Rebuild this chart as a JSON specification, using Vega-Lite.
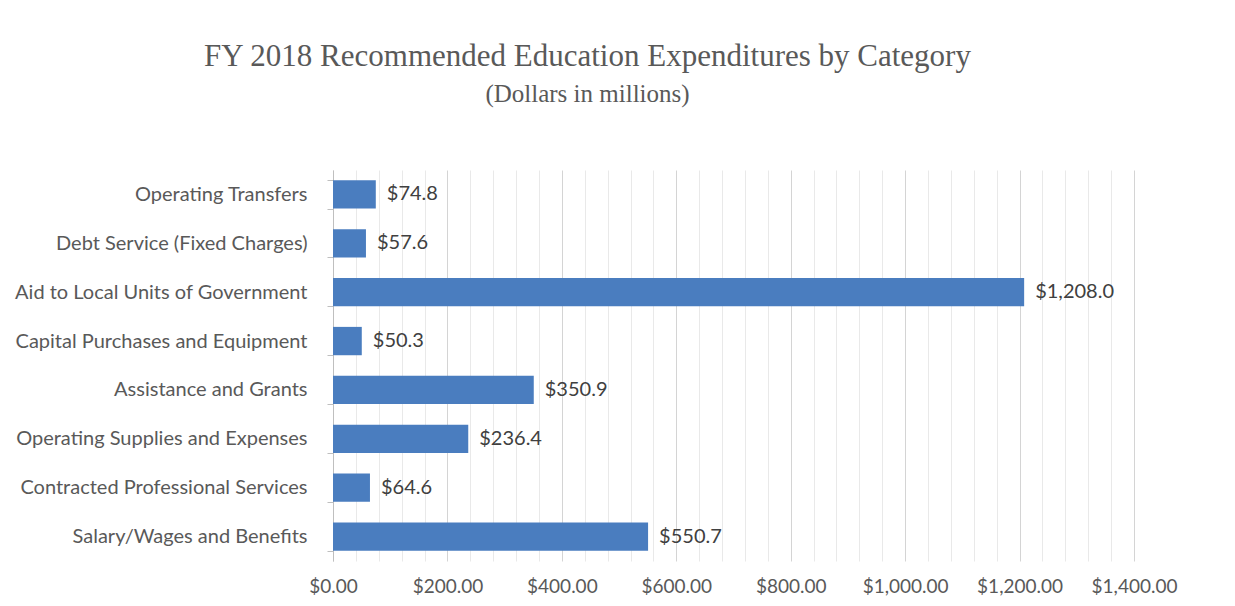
{
  "$schema": "https://vega.github.io/schema/vega-lite/v6.json",
  "width": 801,
  "height": 391,
  "autosize": {"type": "none"},
  "padding": {"left": 333, "top": 170, "right": 101, "bottom": 45},
  "background": "white",
  "config": {"view": {"stroke": null}},
  "title": {
    "text": "FY 2018 Recommended Education Expenditures by Category",
    "subtitle": "(Dollars in millions)",
    "anchor": "middle",
    "dx": -146,
    "offset": 52,
    "font": "Liberation Serif",
    "fontSize": 31,
    "fontWeight": "normal",
    "color": "#595959",
    "subtitleFont": "Liberation Serif",
    "subtitleFontSize": 25,
    "subtitleColor": "#595959",
    "subtitlePadding": 9
  },
  "data": {
    "values": [
      {"category": "Operating Transfers", "amount": 74.8},
      {"category": "Debt Service (Fixed Charges)", "amount": 57.6},
      {"category": "Aid to Local Units of Government", "amount": 1208.0},
      {"category": "Capital Purchases and Equipment", "amount": 50.3},
      {"category": "Assistance and Grants", "amount": 350.9},
      {"category": "Operating Supplies and Expenses", "amount": 236.4},
      {"category": "Contracted Professional Services", "amount": 64.6},
      {"category": "Salary/Wages and Benefits", "amount": 550.7}
    ]
  },
  "encoding": {
    "y": {
      "field": "category",
      "type": "nominal",
      "sort": null,
      "scale": {"paddingInner": 0.42, "paddingOuter": 0.21},
      "axis": {
        "title": null,
        "tickBand": "extent",
        "domainColor": "#bfbfbf",
        "tickColor": "#bfbfbf",
        "tickSize": 6,
        "labelPadding": 20,
        "labelFont": "Lato",
        "labelFontSize": 20,
        "labelColor": "#595959",
        "labelLimit": 400
      }
    },
    "x": {
      "field": "amount",
      "type": "quantitative",
      "scale": {"domain": [0, 1400], "nice": false},
      "axis": {
        "title": null,
        "values": [0, 40, 80, 120, 160, 200, 240, 280, 320, 360, 400, 440, 480, 520, 560, 600, 640, 680, 720, 760, 800, 840, 880, 920, 960, 1000, 1040, 1080, 1120, 1160, 1200, 1240, 1280, 1320, 1360, 1400],
        "labelExpr": "datum.value % 200 === 0 ? format(datum.value, '$,.2f') : ''",
        "domain": false,
        "ticks": false,
        "grid": true,
        "gridColor": {"condition": {"test": "datum.value % 200 === 0", "value": "#d4d4d4"}, "value": "#e9e9e9"},
        "labelPadding": 16,
        "labelFont": "Lato",
        "labelFontSize": 19,
        "labelColor": "#595959",
        "labelFlush": false
      }
    }
  },
  "layer": [
    {"mark": {"type": "bar", "color": "#4A7DBF"}},
    {
      "mark": {"type": "text", "align": "left", "baseline": "middle", "dx": 11, "font": "Lato", "fontSize": 20, "color": "#404040"},
      "encoding": {"text": {"field": "amount", "type": "quantitative", "format": "$,.1f"}}
    }
  ]
}
